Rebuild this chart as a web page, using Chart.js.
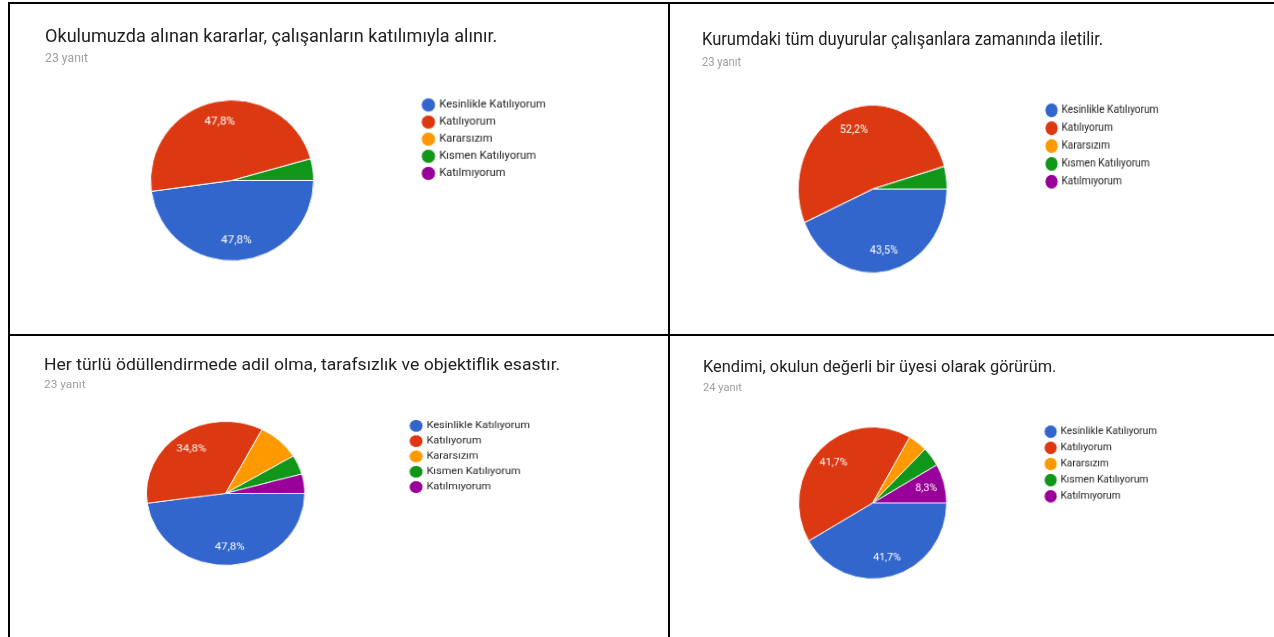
<!DOCTYPE html>
<html>
<head>
<meta charset="utf-8">
<script src="https://cdn.jsdelivr.net/npm/chart.js@4"></script>
<style>
  body { margin: 0; background: #fff; width: 1274px; height: 637px; overflow: hidden; position: relative; font-family: Roboto, sans-serif; }
  .line { position: absolute; background: #000; }
  .panel { position: absolute; transform-origin: 0 0; width: 560px; height: 290px; }
  .title { position: absolute; left: 0; top: 0; font-size: 17.75px; line-height: 1; color: #212121; white-space: nowrap; }
  .sub { position: absolute; left: 0; top: 24px; font-size: 12px; line-height: 1; color: #9e9e9e; }
  .panel canvas { position: absolute; left: 1.5px; top: 64.5px; }
</style>
</head>
<body>
<div class="line" style="left:8px;top:2px;width:2px;height:635px"></div>
<div class="line" style="left:8px;top:2px;width:1266px;height:2px"></div>
<div class="line" style="left:668px;top:2px;width:2px;height:635px"></div>
<div class="line" style="left:8px;top:334px;width:1266px;height:2px"></div>

<script>
// answer options and Google colours
const categories = ['Kesinlikle Katılıyorum', 'Katılıyorum', 'Kararsızım', 'Kısmen Katılıyorum', 'Katılmıyorum'];
const sliceColors = ['#3366cc', '#dc3912', '#ff9900', '#109618', '#990099'];

const titles = [
  'Okulumuzda alınan kararlar, çalışanların katılımıyla alınır.',
  'Kurumdaki tüm duyurular çalışanlara zamanında iletilir.',
  'Her türlü ödüllendirmede adil olma, tarafsızlık ve objektiflik esastır.',
  'Kendimi, okulun değerli bir üyesi olarak görürüm.'
];
const responseLabels = ['23 yanıt', '23 yanıt', '23 yanıt', '24 yanıt'];

// number of answers per option
const answers1 = [11, 11, 0, 1, 0];
const answers2 = [10, 12, 0, 1, 0];
const answers3 = [11, 8, 2, 1, 1];
const answers4 = [10, 10, 1, 1, 2];

// which slices carry a percentage label
const labelled1 = [true, true, false, false, false];
const labelled2 = [true, true, false, false, false];
const labelled3 = [true, true, false, false, false];
const labelled4 = [true, true, false, false, true];

// panel placement: left, top, scaleX, scaleY (the screenshots were resized unevenly)
const panels = [
  { left: 44.9, top: 27.6, sx: 1.02, sy: 1.006, data: answers1, show: labelled1 },
  { left: 702.2, top: 29.5, sx: 0.93, sy: 1.05, data: answers2, show: labelled2 },
  { left: 43.8, top: 357.1, sx: 0.99, sy: 0.9, data: answers3, show: labelled3 },
  { left: 703.2, top: 358.5, sx: 0.925, sy: 0.95, data: answers4, show: labelled4 }
];

Chart.defaults.font.family = 'Roboto, sans-serif';

// percentage text inside the slices
const sliceLabels = {
  id: 'sliceLabels',
  afterDatasetsDraw(chart, args, opts) {
    const ctx = chart.ctx;
    const values = chart.data.datasets[0].data;
    const total = values.reduce((a, b) => a + b, 0);
    chart.getDatasetMeta(0).data.forEach((arc, i) => {
      if (!opts.show[i]) return;
      const p = arc.getProps(['startAngle', 'endAngle', 'outerRadius', 'x', 'y'], true);
      const mid = (p.startAngle + p.endAngle) / 2;
      const r = p.outerRadius * 0.75;
      ctx.save();
      ctx.fillStyle = '#fff';
      ctx.font = '11.5px Roboto';
      ctx.textAlign = 'center';
      ctx.textBaseline = 'middle';
      const text = (values[i] / total * 100).toFixed(1).replace('.', ',') + '%';
      ctx.fillText(text, p.x + Math.cos(mid) * r, p.y + Math.sin(mid) * r);
      ctx.restore();
    });
  }
};

function createPanel(cfg, index) {
  const panel = document.createElement('div');
  panel.className = 'panel';
  panel.style.left = cfg.left + 'px';
  panel.style.top = cfg.top + 'px';
  panel.style.transform = 'scale(' + cfg.sx + ',' + cfg.sy + ')';

  const title = document.createElement('div');
  title.className = 'title';
  title.textContent = titles[index];
  panel.appendChild(title);

  const sub = document.createElement('div');
  sub.className = 'sub';
  sub.textContent = responseLabels[index];
  panel.appendChild(sub);

  const canvas = document.createElement('canvas');
  canvas.width = 499;
  canvas.height = 173;
  panel.appendChild(canvas);
  document.body.appendChild(panel);

  return new Chart(canvas.getContext('2d'), {
    type: 'pie',
    data: {
      labels: categories,
      datasets: [{
        data: cfg.data,
        backgroundColor: sliceColors,
        borderColor: '#fff',
        borderWidth: 1
      }]
    },
    options: {
      responsive: false,
      animation: false,
      rotation: 90,
      radius: 80,
      layout: { padding: 0 },
      plugins: {
        legend: {
          position: 'right',
          align: 'start',
          labels: {
            usePointStyle: true,
            pointStyle: 'circle',
            boxWidth: 10,
            boxHeight: 10,
            padding: 6,
            color: '#222',
            font: { size: 11 }
          }
        },
        tooltip: { enabled: false },
        sliceLabels: { show: cfg.show }
      }
    },
    plugins: [sliceLabels]
  });
}

panels.forEach(createPanel);
</script>
</body>
</html>
